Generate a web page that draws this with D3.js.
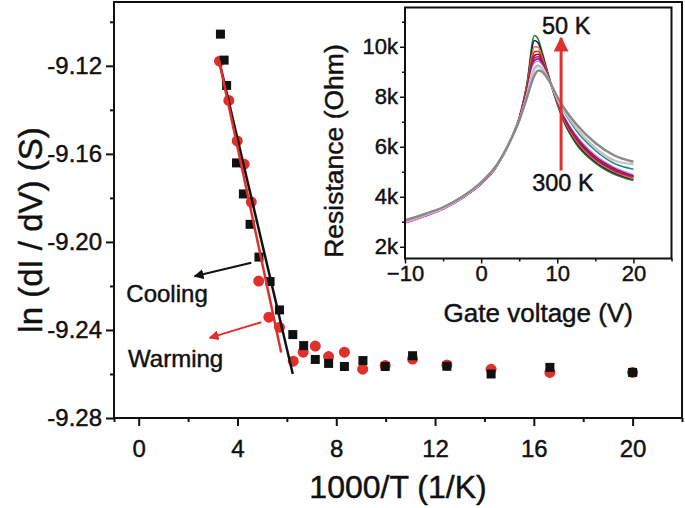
<!DOCTYPE html>
<html><head><meta charset="utf-8">
<script src="https://cdn.jsdelivr.net/npm/d3@7"></script>
<style>
body{margin:0;background:#fff}
svg{display:block}
text{font-family:"Liberation Sans",Arial,Helvetica,sans-serif;fill:#111;stroke:#111;stroke-width:0.45px}
</style>
</head><body>
<svg id="c" width="685" height="508"></svg>
<script>
// ---------------- data ----------------
const xTicksMain = [0, 4, 8, 12, 16, 20];
const xMinorMain = [-1, 2, 6, 10, 14, 18, 22];
const yTicksMain = [-9.28, -9.24, -9.20, -9.16, -9.12];
const yTickLabelsMain = ["-9.28", "-9.24", "-9.20", "-9.16", "-9.12"];
const yMinorMain = [-9.26, -9.22, -9.18, -9.14, -9.10];

// Cooling (black squares): 1000/T and ln(dI/dV)
const coolingX = [3.31, 3.46, 3.56, 3.96, 4.24, 4.51, 4.87, 5.32, 5.70, 6.24, 6.68, 7.15, 7.69, 8.33, 9.08, 9.98, 11.09, 12.48, 14.27, 16.65, 20.0];
const coolingY = [-9.1056, -9.1174, -9.1289, -9.1641, -9.1782, -9.1920, -9.2069, -9.2180, -9.2309, -9.2421, -9.2471, -9.2534, -9.2552, -9.2566, -9.2539, -9.2566, -9.2517, -9.2565, -9.2600, -9.2570, -9.2593];
// Warming (red circles)
const warmingX = [3.27, 3.65, 3.99, 4.27, 4.56, 4.86, 5.27, 5.70, 6.26, 6.66, 7.15, 7.69, 8.33, 9.07, 9.98, 11.09, 12.48, 14.27, 16.65, 20.0];
const warmingY = [-9.1179, -9.1357, -9.1541, -9.1647, -9.1819, -9.2178, -9.2342, -9.2388, -9.2542, -9.2501, -9.2473, -9.2521, -9.2501, -9.2578, -9.2562, -9.2532, -9.2559, -9.2579, -9.2593, -9.2593];
// linear fits
const coolingFitX = [3.27, 6.24];
const coolingFitY = [-9.1183, -9.2600];
const warmingFitX = [3.25, 5.77];
const warmingFitY = [-9.1174, -9.2502];

// Inset: resistance vs gate voltage for several temperatures
const insetXTicks = [-10, 0, 10, 20];
const insetXMinor = [-5, 5, 15, 25];
const insetYTicks = [2000, 4000, 6000, 8000, 10000];
const insetYTickLabels = ["2k", "4k", "6k", "8k", "10k"];
const insetYMinor = [3000, 5000, 7000, 9000, 11000];
const gateVoltage = [-10, -7.5, -5, -2.5, 0, 2, 4, 5, 6, 7, 7.5, 8, 9, 10, 11, 12.5, 15, 17.5, 20];
const R50K  = [2980,3230,3520,3950,4520,5200,6350,7150,8500,10450,10300,9800,8700,7700,6900,6100,5350,4900,4650];
const R75K  = [2985,3235,3525,3955,4525,5205,6360,7150,8450,10250,10150,9700,8680,7730,6950,6170,5400,4950,4700];
const R100K = [2990,3240,3530,3960,4530,5210,6370,7160,8400,10000,9980,9600,8660,7760,7000,6230,5450,5000,4720];
const R125K = [2970,3225,3515,3950,4520,5200,6360,7140,8330,9800,9820,9500,8640,7790,7050,6290,5500,5040,4780];
const R150K = [2975,3230,3520,3955,4525,5205,6350,7120,8270,9650,9700,9420,8630,7820,7100,6340,5540,5080,4820];
const R175K = [2950,3210,3505,3940,4515,5195,6340,7100,8200,9550,9600,9350,8620,7840,7140,6390,5580,5110,4800];
const R200K = [2965,3220,3515,3950,4525,5205,6345,7090,8150,9450,9520,9300,8615,7860,7180,6440,5620,5150,4850];
const R225K = [2955,3215,3510,3948,4530,5215,6350,7080,8100,9350,9430,9240,8610,7880,7230,6500,5680,5200,4900];
const R250K = [3010,3260,3545,3970,4545,5225,6355,7070,8060,9250,9350,9180,8600,7900,7280,6560,5750,5250,4950];
const R275K = [3030,3280,3565,3985,4560,5235,6345,7055,8010,9150,9260,9130,8590,7930,7350,6650,5850,5330,5100];
const R290K = [3040,3290,3570,3990,4565,5240,6350,7060,8000,9100,9230,9120,8600,7950,7400,6750,5950,5450,5300];
const R300K = [3050,3300,3580,4000,4580,5250,6350,7050,7950,8850,9050,9000,8600,8000,7500,6900,6150,5650,5400];
const insetSeries = [R50K, R75K, R100K, R125K, R150K, R175K, R200K, R225K, R250K, R275K, R290K, R300K];

// ---------------- styles ----------------
const curveColors = ["#2e7d32","#1a1a70","#e8782a","#d62728","#8b1a3a","#c2187a","#6a1b9a","#e88ab8","#ffffff","#1c8c8c","#c4c4c4","#8a8a8a"];
const RED = "#e0302c";
const BLACK = "#111";

const svg = d3.select("#c");

// ---------------- main scales ----------------
const x = d3.scaleLinear().domain([-1, 22]).range([114, 682]);
const y = d3.scaleLinear().domain([-9.28, -9.091]).range([418, 2]);

// defs: arrowheads
const defs = svg.append("defs");
function marker(id, color) {
  defs.append("marker").attr("id", id).attr("viewBox", "0 0 10 10")
    .attr("refX", 9).attr("refY", 5).attr("markerWidth", 5).attr("markerHeight", 5)
    .attr("orient", "auto-start-reverse")
    .append("path").attr("d", "M0,0 L10,5 L0,10 z").attr("fill", color);
}
marker("ahBlack", BLACK);
marker("ahRed", RED);

// axes
const gx = svg.append("g").attr("transform", `translate(0,${y(-9.28)})`);
gx.call(d3.axisBottom(x).tickValues(xTicksMain).tickSize(8).tickPadding(14).tickFormat(d3.format("d")));
const gxm = svg.append("g").attr("transform", `translate(0,${y(-9.28)})`);
gxm.call(d3.axisBottom(x).tickValues(xMinorMain).tickSize(4).tickFormat(""));
const gy = svg.append("g").attr("transform", `translate(${x(-1)},0)`);
gy.call(d3.axisLeft(y).tickValues(yTicksMain).tickSize(8).tickPadding(4).tickFormat((d, i) => yTickLabelsMain[i]));
const gym = svg.append("g").attr("transform", `translate(${x(-1)},0)`);
gym.call(d3.axisLeft(y).tickValues(yMinorMain).tickSize(4).tickFormat(""));
[gx, gxm, gy, gym].forEach(g => {
  g.select(".domain").remove();
  g.selectAll(".tick line").attr("stroke", BLACK).attr("stroke-width", 2);
  g.selectAll("text").attr("font-size", 24).attr("fill", BLACK).attr("font-family", '"Liberation Sans",Arial,sans-serif');
});

// frame
svg.append("rect").attr("x", x(-1)).attr("y", y(-9.091)).attr("width", x(22) - x(-1)).attr("height", y(-9.28) - y(-9.091))
  .attr("fill", "none").attr("stroke", BLACK).attr("stroke-width", 2);

// axis titles
svg.append("text").attr("x", (x(-1) + x(22)) / 2).attr("y", 498).attr("text-anchor", "middle")
  .attr("font-size", 32).text("1000/T (1/K)");
svg.append("text").attr("transform", `translate(42,230) rotate(-90)`)
  .attr("text-anchor", "middle").attr("font-size", 33).text("ln (dI / dV) (S)");

// data: circles first, squares on top
svg.append("g").selectAll("circle").data(warmingX).join("circle")
  .attr("cx", d => x(d)).attr("cy", (d, i) => y(warmingY[i])).attr("r", 5.5).attr("fill", RED);
svg.append("g").selectAll("rect").data(coolingX).join("rect")
  .attr("x", d => x(d) - 4.5).attr("y", (d, i) => y(coolingY[i]) - 4.5).attr("width", 9).attr("height", 9).attr("fill", BLACK);

// fit lines
svg.append("line").attr("x1", x(coolingFitX[0])).attr("y1", y(coolingFitY[0])).attr("x2", x(coolingFitX[1])).attr("y2", y(coolingFitY[1]))
  .attr("stroke", BLACK).attr("stroke-width", 2.5);
svg.append("line").attr("x1", x(warmingFitX[0])).attr("y1", y(warmingFitY[0])).attr("x2", x(warmingFitX[1])).attr("y2", y(warmingFitY[1]))
  .attr("stroke", RED).attr("stroke-width", 2.5);

// annotation arrows + labels
svg.append("line").attr("x1", x(4.56)).attr("y1", y(-9.2095)).attr("x2", x(2.26)).attr("y2", y(-9.2156))
  .attr("stroke", BLACK).attr("stroke-width", 2).attr("marker-end", "url(#ahBlack)");
svg.append("line").attr("x1", x(4.96)).attr("y1", y(-9.2365)).attr("x2", x(2.87)).attr("y2", y(-9.2436))
  .attr("stroke", RED).attr("stroke-width", 2).attr("marker-end", "url(#ahRed)");
svg.append("text").attr("x", x(-0.5)).attr("y", y(-9.2274)).attr("font-size", 24).text("Cooling");
svg.append("text").attr("x", x(-0.43)).attr("y", y(-9.257)).attr("font-size", 24).text("Warming");

// ---------------- inset ----------------
const ix = d3.scaleLinear().domain([-10, 25]).range([405, 671.5]);
const iy = d3.scaleLinear().domain([1530, 11570]).range([258.5, 7.5]);

svg.append("rect").attr("x", ix(-10)).attr("y", iy(11570)).attr("width", ix(25) - ix(-10)).attr("height", iy(1530) - iy(11570))
  .attr("fill", "#fff");

const line = d3.line().x((d, i) => ix(gateVoltage[i])).y(d => iy(d)).curve(d3.curveMonotoneX);
svg.append("g").selectAll("path").data(insetSeries).join("path")
  .attr("d", d => line(d)).attr("fill", "none")
  .attr("stroke", (d, i) => curveColors[i])
  .attr("stroke-width", (d, i) => i >= 10 ? 2.4 : 1.6);

const igx = svg.append("g").attr("transform", `translate(0,${iy(1530)})`)
  .call(d3.axisBottom(ix).tickValues(insetXTicks).tickSize(5).tickPadding(2).tickFormat(d3.format("d")));
const igxm = svg.append("g").attr("transform", `translate(0,${iy(1530)})`)
  .call(d3.axisBottom(ix).tickValues(insetXMinor).tickSize(3).tickFormat(""));
const igy = svg.append("g").attr("transform", `translate(${ix(-10)},0)`)
  .call(d3.axisLeft(iy).tickValues(insetYTicks).tickSize(5).tickPadding(2).tickFormat((d, i) => insetYTickLabels[i]));
const igym = svg.append("g").attr("transform", `translate(${ix(-10)},0)`)
  .call(d3.axisLeft(iy).tickValues(insetYMinor).tickSize(3).tickFormat(""));
[igx, igxm, igy, igym].forEach(g => {
  g.select(".domain").remove();
  g.selectAll(".tick line").attr("stroke", BLACK).attr("stroke-width", 1.5);
  g.selectAll("text").attr("font-size", 22).attr("fill", BLACK).attr("font-family", '"Liberation Sans",Arial,sans-serif');
});
svg.append("rect").attr("x", ix(-10)).attr("y", iy(11570)).attr("width", ix(25) - ix(-10)).attr("height", iy(1530) - iy(11570))
  .attr("fill", "none").attr("stroke", BLACK).attr("stroke-width", 2);

svg.append("text").attr("x", (ix(-10) + ix(25)) / 2).attr("y", 322).attr("text-anchor", "middle")
  .attr("font-size", 26).text("Gate voltage (V)");
svg.append("text").attr("transform", `translate(343,151) rotate(-90)`).attr("text-anchor", "middle")
  .attr("font-size", 26.5).text("Resistance (Ohm)");

// inset arrow + labels
svg.append("line").attr("x1", ix(10.5)).attr("y1", iy(5050)).attr("x2", ix(10.5)).attr("y2", iy(10350))
  .attr("stroke", RED).attr("stroke-width", 3).attr("marker-end", "url(#ahRed)");
svg.append("text").attr("x", ix(8.0)).attr("y", iy(10530)).attr("font-size", 23.5).text("50 K");
svg.append("text").attr("x", ix(6.7)).attr("y", iy(4230)).attr("font-size", 23.5).text("300 K");
</script>
</body></html>
